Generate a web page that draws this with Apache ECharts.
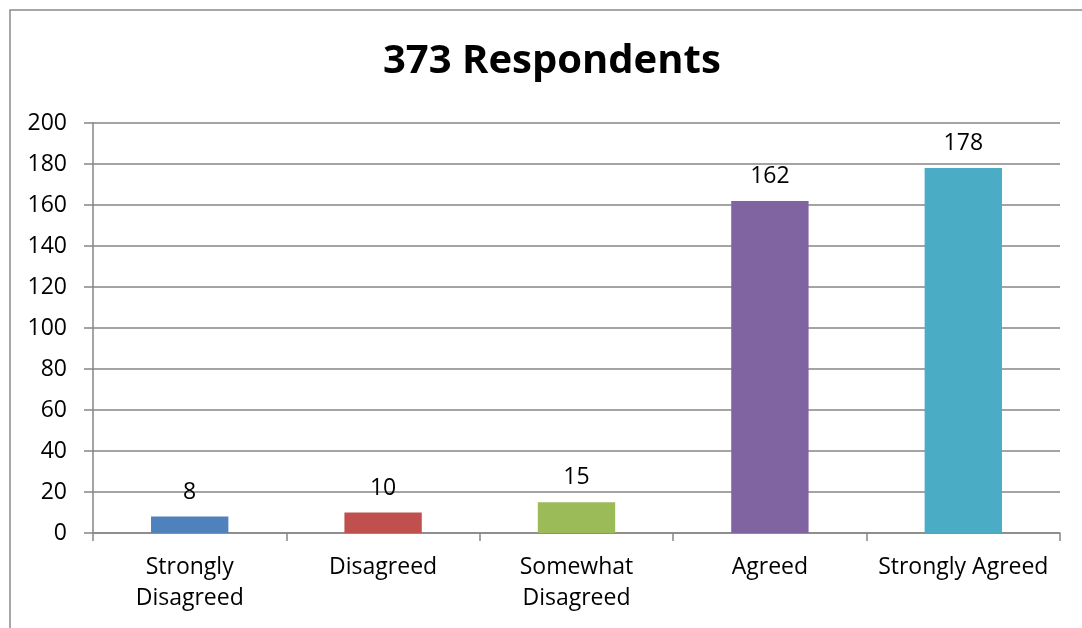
<!DOCTYPE html>
<html>
<head>
<meta charset="utf-8">
<script src="https://cdn.jsdelivr.net/npm/echarts@6/dist/echarts.min.js"></script>
<style>
html,body{margin:0;padding:0;background:#fff;}
#chart{width:1082px;height:628px;}
</style>
</head>
<body>
<div id="chart"></div>
<script>
const titleText = '373 Respondents';
const categories = ['Strongly\nDisagreed', 'Disagreed', 'Somewhat\nDisagreed', 'Agreed', 'Strongly Agreed'];
const values = [8, 10, 15, 162, 178];
const yTicks = [0, 20, 40, 60, 80, 100, 120, 140, 160, 180, 200];

const barColors = ['#4F81BD', '#C0504D', '#9BBB59', '#8064A2', '#4BACC6'];
const FONT = '"Open Sans", "Liberation Sans", sans-serif';
const GRAY = '#868686';

const chart = echarts.init(document.getElementById('chart'));
chart.setOption({
  animation: false,
  backgroundColor: '#fff',
  title: {
    text: titleText,
    left: 378,
    top: 37,
    textStyle: { fontFamily: FONT, fontSize: 40, fontWeight: 'bold', color: '#000' }
  },
  graphic: [{
    type: 'rect',
    shape: { x: 10, y: 10, width: 1200, height: 1000 },
    style: { fill: 'none', stroke: '#8a8a8a', lineWidth: 1.5 },
    silent: true
  }],
  grid: { left: 93, right: 22, top: 123, bottom: 95, containLabel: false },
  xAxis: {
    type: 'category',
    data: categories,
    axisLine: { show: true, lineStyle: { color: GRAY, width: 1.5 } },
    axisTick: { show: true, length: 8, lineStyle: { color: GRAY, width: 1.5 } },
    axisLabel: { color: '#000', fontFamily: FONT, fontSize: 23, lineHeight: 31, margin: 19, interval: 0 }
  },
  yAxis: {
    type: 'value',
    min: yTicks[0],
    max: yTicks[yTicks.length - 1],
    interval: 20,
    axisLine: { show: true, lineStyle: { color: GRAY, width: 1.5 } },
    axisTick: { show: true, length: 9, lineStyle: { color: GRAY, width: 1.5 } },
    splitLine: { show: true, lineStyle: { color: GRAY, width: 1.5 } },
    axisLabel: { color: '#000', fontFamily: FONT, fontSize: 23, margin: 26 }
  },
  series: [{
    type: 'bar',
    barWidth: '40%',
    data: values.map((v, i) => ({ value: v, itemStyle: { color: barColors[i] } })),
    label: {
      show: true,
      position: 'top',
      distance: 13,
      color: '#000',
      fontFamily: FONT,
      fontSize: 23
    }
  }]
});
</script>
</body>
</html>
